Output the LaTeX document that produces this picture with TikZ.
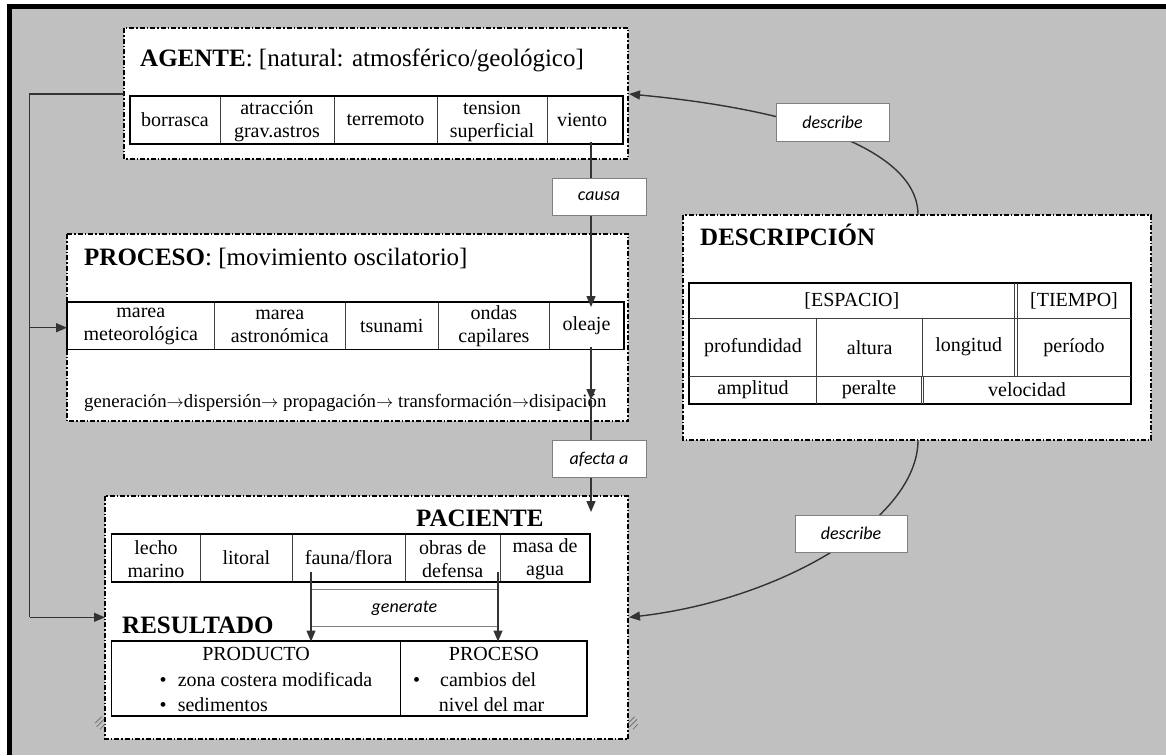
\documentclass[tikz,border=0pt]{standalone}
\usepackage{fontspec}
\setmainfont{Liberation Serif}
\newfontfamily\labelfont{Carlito}
\usetikzlibrary{arrows.meta}
\definecolor{bggray}{HTML}{C0C0C0}

\begin{document}
\begin{tikzpicture}[x=1pt,y=-1pt,
  frame/.style={draw=black, line width=1.1pt, fill=white,
    dash pattern=on 5pt off 2pt on 1.5pt off 2pt},
  tbl/.style={draw=black, line width=1.6pt},
  sep/.style={draw=black!75, line width=0.9pt},
  cell/.style={font=\fontsize{20}{23}\selectfont, align=center, inner sep=0pt},
  title/.style={font=\fontsize{25}{28}\selectfont, anchor=base west, inner sep=0pt},
  lbl/.style={draw=black!50, line width=1pt, fill=white,
    font=\labelfont\itshape\fontsize{18}{21}\selectfont, inner sep=0pt},
  conn/.style={draw=black!80, line width=1.4pt},
  tip/.style={-{Triangle[length=11pt,width=9pt]}},
  hatch/.style={draw=black!60, line width=0.6pt},
]
\useasboundingbox (0,0) rectangle (1166,755);

% page background with the heavy top and left rules
\fill[white] (0,0) rectangle (1166,755);
\fill[bggray] (7,4) rectangle (1166,755);
\fill[black] (7,4) rectangle (1166,9);
\fill[black] (7,4) rectangle (11.5,755);

% ---------------- AGENTE ----------------
\draw[frame] (124,28) rectangle (628,159);
\node[title] (agT) at (140,66) {\textbf{AGENTE}: [natural: atmosférico/geológico]};
\draw[tbl] (130,96) rectangle (623,144);
\foreach \x in {220,334,437,547} \draw[sep] (\x,97) -- (\x,143);
\node[cell] (borrasca) at (175,120) {borrasca};
\node[cell] (atraccion) at (277,121.5) {atracción\\grav.astros};
\node[cell] (terremoto) at (385.5,120) {terremoto};
\node[cell] (tension) at (492,121.5) {tension\\superficial};
\node[cell] (viento) at (582,120) {viento};

% ---------------- PROCESO ----------------
\draw[frame] (67,234) rectangle (628,421);
\node[title] (prT) at (84,265) {\textbf{PROCESO}: [movimiento oscilatorio]};
\draw[tbl] (67,301.7) rectangle (623.7,349.3);
\foreach \x in {214.6,345,438.6,549.2} \draw[sep] (\x,302.5) -- (\x,348.5);
\node[cell] (mmet) at (140.8,326.5) {marea\\meteorológica};
\node[cell] (mast) at (279.8,326.5) {marea\\astronómica};
\node[cell] (tsunami) at (391.8,325.5) {tsunami};
\node[cell] (ondas) at (493.9,326.5) {ondas\\capilares};
\node[cell] (oleaje) at (586.5,325.5) {oleaje};
\node[anchor=base west, inner sep=0pt, font=\fontsize{18.8}{22}\selectfont]
  (fases) at (84,407) {generación$\rightarrow$dispersión$\rightarrow$ propagación$\rightarrow$ transformación$\rightarrow$disipación};

% ---------------- DESCRIPCION ----------------
\draw[frame] (683,215) rectangle (1151,440);
\node[title] (deT) at (700,245) {\textbf{DESCRIPCIÓN}};
\draw[tbl] (689,282.7) rectangle (1131,404);
\draw[sep] (689,318.3) -- (1131,318.3);
\draw[sep] (689,376) -- (1131,376);
\draw[sep] (1014.7,282.7) -- (1014.7,376);
\draw[sep] (1017.3,282.7) -- (1017.3,376);
\draw[sep] (816.7,318.3) -- (816.7,404);
\draw[sep] (922.7,318.3) -- (922.7,376);
\draw[sep] (921,376) -- (921,404);
\draw[sep] (923.5,376) -- (923.5,404);
\node[cell] (espacio) at (851.9,300.5) {[ESPACIO]};
\node[cell] (tiempo) at (1074,300.5) {[TIEMPO]};
\node[cell] (profundidad) at (752.9,347.2) {profundidad};
\node[cell] (altura) at (869.7,347.2) {altura};
\node[cell] (longitud) at (968.7,347.2) {longitud};
\node[cell] (periodo) at (1074,347.2) {período};
\node[cell] (amplitud) at (753,390) {amplitud};
\node[cell] (peralte) at (869,390) {peralte};
\node[cell] (velocidad) at (1027,390) {velocidad};

% ---------------- PACIENTE / RESULTADO ----------------
\draw[frame] (105,496) rectangle (628,739);
\node[title] (paT) at (416,526) {\textbf{PACIENTE}};
\draw[tbl] (111.5,533.7) rectangle (590,582);
\foreach \x in {200.8,292,405.3,500} \draw[sep] (\x,534.5) -- (\x,581.2);
\node[cell] (lecho) at (156,559) {lecho\\marino};
\node[cell] (litoral) at (246.4,558) {litoral};
\node[cell] (fauna) at (348.7,558) {fauna/flora};
\node[cell] (obras) at (452.7,559) {obras de\\defensa};
\node[cell] (masa) at (545,559) {masa de\\agua};

\node[title] (reT) at (122,633) {\textbf{RESULTADO}};
\draw[tbl] (111.5,640.7) rectangle (587,715.7);
\draw[tbl, line width=1.2pt] (400.7,640.7) -- (400.7,715.7);
\node[cell, anchor=base] (producto) at (256,660) {PRODUCTO};
\node[cell, anchor=base] (procesoR) at (493.9,660) {PROCESO};
\node[cell, anchor=base] (bul1) at (163,686.7) {•};
\node[cell, anchor=base west] (zona) at (177.6,686.7) {zona costera modificada};
\node[cell, anchor=base] (bul2) at (163,711.7) {•};
\node[cell, anchor=base west] (sedim) at (177.6,711.7) {sedimentos};
\node[cell, anchor=base] (bul3) at (416.7,686.7) {•};
\node[cell, anchor=base west] (cambios) at (440,686.7) {cambios del};
\node[cell, anchor=base west] (nivel) at (438.6,711.7) {nivel del mar};

% resize marks at the lower corners
\foreach \dx in {0,533} {
  \draw[hatch] (95+\dx,723.3) -- (101.7+\dx,716.7);
  \draw[hatch] (96.7+\dx,726.7) -- (104+\dx,719.3);
  \draw[hatch] (100+\dx,729.3) -- (105+\dx,724);
}

% ---------------- connectors ----------------
\coordinate (agL) at (124,94);
\coordinate (bendTop) at (29.5,94);
\coordinate (bendMid) at (29.5,327.7);
\coordinate (bendLow) at (29.5,617.3);
\coordinate (prIn) at (67,327.7);
\coordinate (paIn) at (105,617.3);
\draw[conn] (agL) -- (bendTop) -- (bendLow);
\draw[conn, tip] (bendMid) -- (prIn);
\draw[conn, tip] (bendLow) -- (paIn);

\coordinate (vOut) at (591,142);
\coordinate (oIn) at (591,307);
\draw[conn, tip] (vOut) -- (oIn);
\node[lbl, minimum width=94pt, minimum height=37pt] (causa) at (599,196.5) {causa};

\coordinate (oOut) at (591,347);
\coordinate (fIn) at (591,400);
\coordinate (pIn) at (591,512);
\draw[conn, tip] (oOut) -- (fIn);
\draw[conn, tip] (fIn) -- (pIn);
\node[lbl, minimum width=94pt, minimum height=37.7pt] (afecta) at (599,459) {afecta a};

\coordinate (deTop) at (918,215);
\coordinate (agR) at (629,94);
\draw[conn, tip] (deTop) .. controls (918,150) and (800,110) .. (agR);
\node[lbl, minimum width=113pt, minimum height=38pt] (desc1) at (832.5,122) {describe};

\coordinate (deBot) at (918,440);
\coordinate (paR) at (629,617.3);
\draw[conn, tip] (deBot) .. controls (918,520) and (780,600) .. (paR);
\node[lbl, minimum width=112pt, minimum height=37pt] (desc2) at (851,533.5) {describe};

\node[lbl, minimum width=187pt, minimum height=37.5pt] (gen) at (404.5,608) {generate};
\coordinate (faOut) at (311,572);
\coordinate (prodIn) at (311,641.5);
\coordinate (obOut) at (498,572);
\coordinate (procIn) at (498,641.5);
\draw[conn, tip] (faOut) -- (prodIn);
\draw[conn, tip] (obOut) -- (procIn);
\end{tikzpicture}
\end{document}
